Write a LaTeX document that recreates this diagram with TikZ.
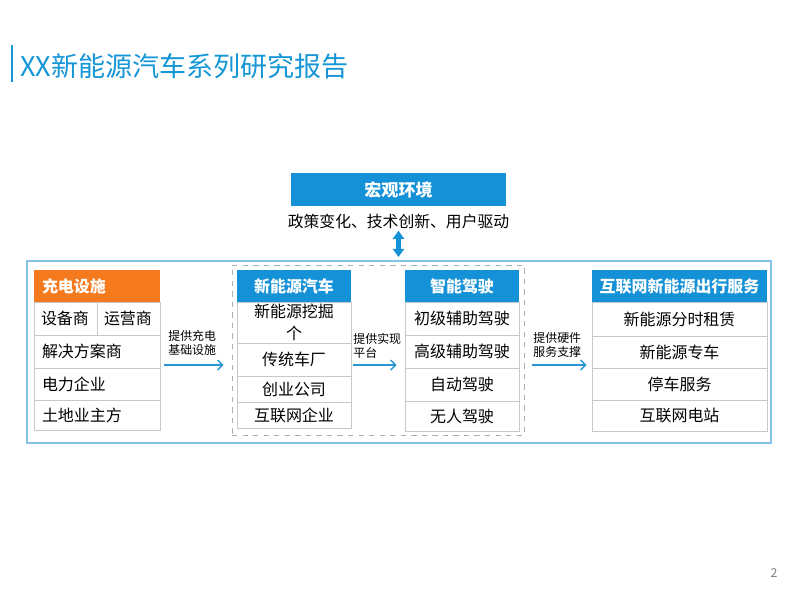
\documentclass[tikz,border=0pt]{standalone}
\usepackage{fontspec}
\setmainfont{Noto Sans CJK SC}
\usetikzlibrary{arrows.meta}
\definecolor{hdblue}{RGB}{20,145,215}
\definecolor{hdorange}{RGB}{245,122,30}
\definecolor{frameblue}{RGB}{130,195,230}
\definecolor{cellgray}{RGB}{200,200,200}
\definecolor{dashgray}{RGB}{175,175,175}
\definecolor{arrowblue}{RGB}{40,150,210}
\definecolor{titleblue}{RGB}{20,150,215}

\begin{document}
\begin{tikzpicture}[x=0.02cm,y=-0.02cm]

\tikzstyle{cell}=[rectangle,draw=cellgray,fill=white,inner sep=0pt,font=\fontsize{9.1}{12.5}\selectfont]
\tikzstyle{lcell}=[cell,align=left,inner xsep=0.16cm]
\tikzstyle{head}=[rectangle,fill=hdblue,text=white,inner sep=0pt,minimum height=0.64cm,font=\fontsize{9.1}{11}\selectfont\bfseries]
\tikzstyle{note}=[inner sep=0pt,align=left,anchor=west,font=\fontsize{6.8}{8}\selectfont]
\tikzstyle{flow}=[-{Straight Barb[length=0.1cm,width=0.2cm]},draw=arrowblue,line width=0.8pt]
\tikzstyle{dbl}=[{Triangle[width=0.22cm,length=0.16cm]}-{Triangle[width=0.22cm,length=0.16cm]},draw=hdblue,line width=0.09cm]

\useasboundingbox (0,0) rectangle (800,600);

% title
\draw[titleblue,line width=1.2pt] (12,45) -- (12,82);
\node[anchor=west,inner sep=0pt,text=titleblue,font=\fontsize{15.4}{18}\selectfont] (title) at (20,66) {XX新能源汽车系列研究报告};

% macro environment
\node[head,minimum width=4.3cm,minimum height=0.66cm,font=\fontsize{9.7}{11}\selectfont\bfseries] (env) at (398.5,189.5) {宏观环境};
\node[inner sep=0pt,font=\fontsize{9}{11}\selectfont] (drv) at (398.5,221) {政策变化、技术创新、用户驱动};

\node[draw=frameblue,line width=1.2pt,inner sep=0pt,minimum width=14.88cm,minimum height=3.64cm] (frame) at (399,352) {};
\node[draw=dashgray,dashed,inner sep=0pt,minimum width=5.84cm,minimum height=3.4cm] (grp) at (378,350) {};
\draw[dbl,shorten <=0.04cm,shorten >=0.06cm] (drv.south) -- (drv.south |- frame.north);

% charging
\node[head,fill=hdorange,align=left,text width=2.2cm,inner xsep=0.16cm] (h1) at (97,286) {充电设施};
\node[lcell,text width=0.98cm,inner xsep=0.14cm,minimum height=0.66cm] (a1) at (65.5,318.5) {设备商};
\node[lcell,text width=0.98cm,inner xsep=0.14cm,minimum height=0.66cm] (a2) at (128.5,318.5) {运营商};
\node[lcell,text width=2.2cm,minimum height=0.66cm] (a3) at (97,351.5) {解决方案商};
\node[lcell,text width=2.2cm,minimum height=0.64cm] (a4) at (97,384) {电力企业};
\node[lcell,text width=2.2cm,minimum height=0.6cm] (a5) at (97,415) {土地业主方};

% new energy vehicles
\node[head,minimum width=2.28cm] (h2) at (294,286) {新能源汽车};
\node[cell,minimum width=2.28cm,minimum height=0.82cm,align=center] (b1) at (294,322.5) {新能源挖掘\\个};
\node[cell,minimum width=2.28cm,minimum height=0.66cm] (b2) at (294,359.5) {传统车厂};
\node[cell,minimum width=2.28cm,minimum height=0.52cm] (b3) at (294,389) {创业公司};
\node[cell,minimum width=2.28cm,minimum height=0.52cm] (b4) at (294,415) {互联网企业};

% smart driving
\node[head,minimum width=2.28cm] (h3) at (462,286) {智能驾驶};
\node[cell,minimum width=2.28cm,minimum height=0.66cm] (c1) at (462,318.5) {初级辅助驾驶};
\node[cell,minimum width=2.28cm,minimum height=0.66cm] (c2) at (462,351.5) {高级辅助驾驶};
\node[cell,minimum width=2.28cm,minimum height=0.66cm] (c3) at (462,384.5) {自动驾驶};
\node[cell,minimum width=2.28cm,minimum height=0.6cm] (c4) at (462,416) {无人驾驶};

% mobility services
\node[head,minimum width=3.5cm] (h4) at (679.5,286) {互联网新能源出行服务};
\node[cell,minimum width=3.5cm,minimum height=0.68cm] (d1) at (679.5,319) {新能源分时租赁};
\node[cell,minimum width=3.5cm,minimum height=0.64cm] (d2) at (679.5,352) {新能源专车};
\node[cell,minimum width=3.5cm,minimum height=0.64cm] (d3) at (679.5,384) {停车服务};
\node[cell,minimum width=3.5cm,minimum height=0.62cm] (d4) at (679.5,415.5) {互联网电站};

% links
\coordinate (lvl) at (0,365);
\node[note] (t1) at (168,343) {提供充电\\基础设施};
\node[note] (t2) at (353,345.5) {提供实现\\平台};
\node[note] (t3) at (533,345) {提供硬件\\服务支撑};
\draw[flow,shorten <=0.08cm,shorten >=0.16cm] (a3.east |- lvl) -- (grp.west |- lvl);
\draw[flow,shorten <=0.04cm,shorten >=0.16cm] (b2.east |- lvl) -- (c2.west |- lvl);
\draw[flow,shorten <=0.16cm,shorten >=0.1cm] (grp.east |- lvl) -- (d2.west |- lvl);

\node[text=gray,inner sep=0pt,font=\fontsize{7}{8}\selectfont] (pg) at (774,573) {2};

\end{tikzpicture}
\end{document}
